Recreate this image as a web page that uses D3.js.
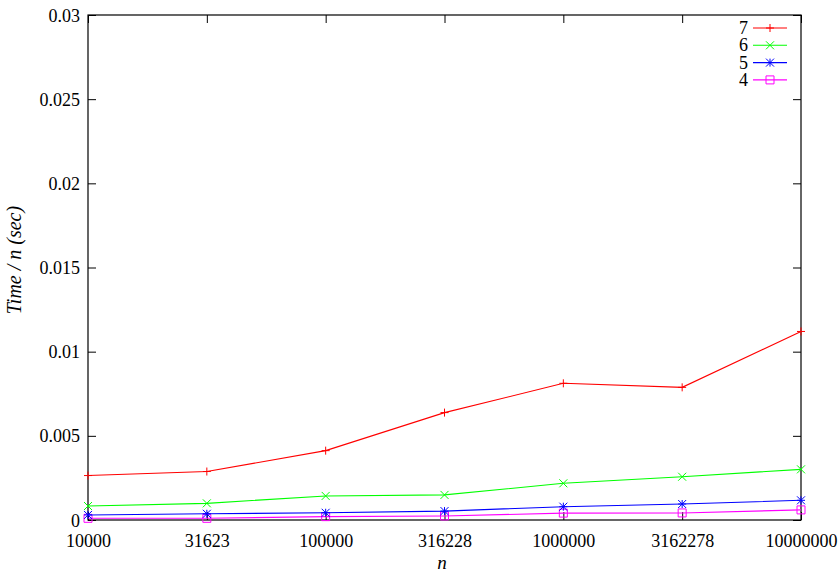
<!DOCTYPE html>
<html>
<head>
<meta charset="utf-8">
<script src="https://cdn.jsdelivr.net/npm/d3@7"></script>
<style>
    body { margin: 0; background: white; }
    text { font-family: "Liberation Serif", "Times New Roman", serif; }
</style>
</head>
<body>
<svg id="chart" width="839" height="573"></svg>
<script>
    // data
    var sizes = [10000, 31623, 100000, 316228, 1000000, 3162278, 10000000]
    var seriesNames = ["7", "6", "5", "4"]
    var time7 = [0.00264, 0.00288, 0.00412, 0.00638, 0.00812, 0.00788, 0.01120]
    var time6 = [0.00083, 0.00099, 0.00143, 0.00149, 0.00218, 0.00257, 0.00301]
    var time5 = [0.00030, 0.00037, 0.00043, 0.00053, 0.00079, 0.00095, 0.00117]
    var time4 = [0.00010, 0.00010, 0.00020, 0.00024, 0.00041, 0.00042, 0.00060]
    var yTicks = [0, 0.005, 0.01, 0.015, 0.02, 0.025, 0.03]

    var colours = ["#ff0000", "#00ff00", "#0000ff", "#ff00ff"]
    var symbols = ["plus", "cross", "star", "box"]
    var allSeries = [time7, time6, time5, time4]

    // plot box (window.top is read-only, so keep these names distinct)
    var plotL = 88, plotR = 801, plotT = 15, plotB = 520
    var svg = d3.select("#chart")

    var x = d3.scaleLog().domain([10000, 10000000]).range([plotL, plotR])
    var y = d3.scaleLinear().domain([0, 0.03]).range([plotB, plotT])

    function fmtY(d) { return d == 0 ? "0" : d3.format("~g")(d) }

    // axes, ticks pointing inwards like gnuplot, mirrored on the far side
    var gl = svg.append("g").attr("transform", "translate(" + plotL + ",0)")
        .call(d3.axisLeft(y).tickValues(yTicks).tickFormat(fmtY).tickSize(-8).tickPadding(8))
    var gr = svg.append("g").attr("transform", "translate(" + plotR + ",0)")
        .call(d3.axisRight(y).tickValues(yTicks).tickFormat("").tickSize(-8))
    var gb = svg.append("g").attr("transform", "translate(0," + plotB + ")")
        .call(d3.axisBottom(x).tickValues(sizes).tickFormat(d3.format("d")).tickSize(-8))
    var gt = svg.append("g").attr("transform", "translate(0," + plotT + ")")
        .call(d3.axisTop(x).tickValues(sizes).tickFormat("").tickSize(-8))

    svg.selectAll(".domain").remove()
    svg.selectAll(".tick line").attr("stroke", "black").attr("stroke-width", 1)
    svg.selectAll(".tick text").attr("fill", "black").style("font-size", "18px")
        .style("font-family", "'Liberation Serif', serif")
    gl.selectAll(".tick text").attr("dy", "0.34em")
    gb.selectAll(".tick text").attr("y", 27).attr("dy", 0)

    svg.append("rect")
        .attr("x", plotL).attr("y", plotT)
        .attr("width", plotR - plotL).attr("height", plotB - plotT)
        .attr("fill", "none").attr("stroke", "black").attr("stroke-width", 1.2)

    svg.append("text")
        .attr("transform", "translate(21,260) rotate(-90)")
        .attr("text-anchor", "middle")
        .style("font-size", "20px").style("font-style", "italic")
        .text("Time / n (sec)")
    svg.append("text")
        .attr("x", 442).attr("y", 569)
        .attr("text-anchor", "middle")
        .style("font-size", "19px").style("font-style", "italic")
        .text("n")

    function drawSymbol(g, kind, cx, cy, colour) {
        var s = 4
        var p
        if (kind == "plus") p = "M" + (cx - s) + "," + cy + "H" + (cx + s) + "M" + cx + "," + (cy - s) + "V" + (cy + s)
        if (kind == "cross") p = "M" + (cx - s) + "," + (cy - s) + "L" + (cx + s) + "," + (cy + s) + "M" + (cx - s) + "," + (cy + s) + "L" + (cx + s) + "," + (cy - s)
        if (kind == "star") p = "M" + (cx - s) + "," + cy + "H" + (cx + s) + "M" + cx + "," + (cy - s) + "V" + (cy + s) +
            "M" + (cx - s) + "," + (cy - s) + "L" + (cx + s) + "," + (cy + s) + "M" + (cx - s) + "," + (cy + s) + "L" + (cx + s) + "," + (cy - s)
        if (kind == "box") p = "M" + (cx - s) + "," + (cy - s) + "H" + (cx + s) + "V" + (cy + s) + "H" + (cx - s) + "Z"
        g.append("path").attr("d", p).attr("fill", "none").attr("stroke", colour).attr("stroke-width", 1)
    }

    var line = d3.line().x(function(d, i) { return x(sizes[i]) }).y(function(d) { return y(d) })

    // draw from 4 up to 7 so red sits on top
    for (var k = allSeries.length - 1; k >= 0; k--) {
        var g = svg.append("g")
        g.append("path").datum(allSeries[k]).attr("d", line)
            .attr("fill", "none").attr("stroke", colours[k]).attr("stroke-width", 1.1)
        for (var i = 0; i < sizes.length; i++) {
            drawSymbol(g, symbols[k], x(sizes[i]), y(allSeries[k][i]), colours[k])
        }
    }

    // legend
    var legend = svg.append("g")
    for (var k = 0; k < seriesNames.length; k++) {
        var ly = 28 + k * 17.3
        legend.append("text").attr("x", 748).attr("y", ly).attr("dy", "0.34em")
            .attr("text-anchor", "end").style("font-size", "18px").text(seriesNames[k])
        legend.append("line").attr("x1", 753).attr("x2", 787).attr("y1", ly).attr("y2", ly)
            .attr("stroke", colours[k]).attr("stroke-width", 1.1)
        drawSymbol(legend, symbols[k], 770, ly, colours[k])
    }
</script>
</body>
</html>
